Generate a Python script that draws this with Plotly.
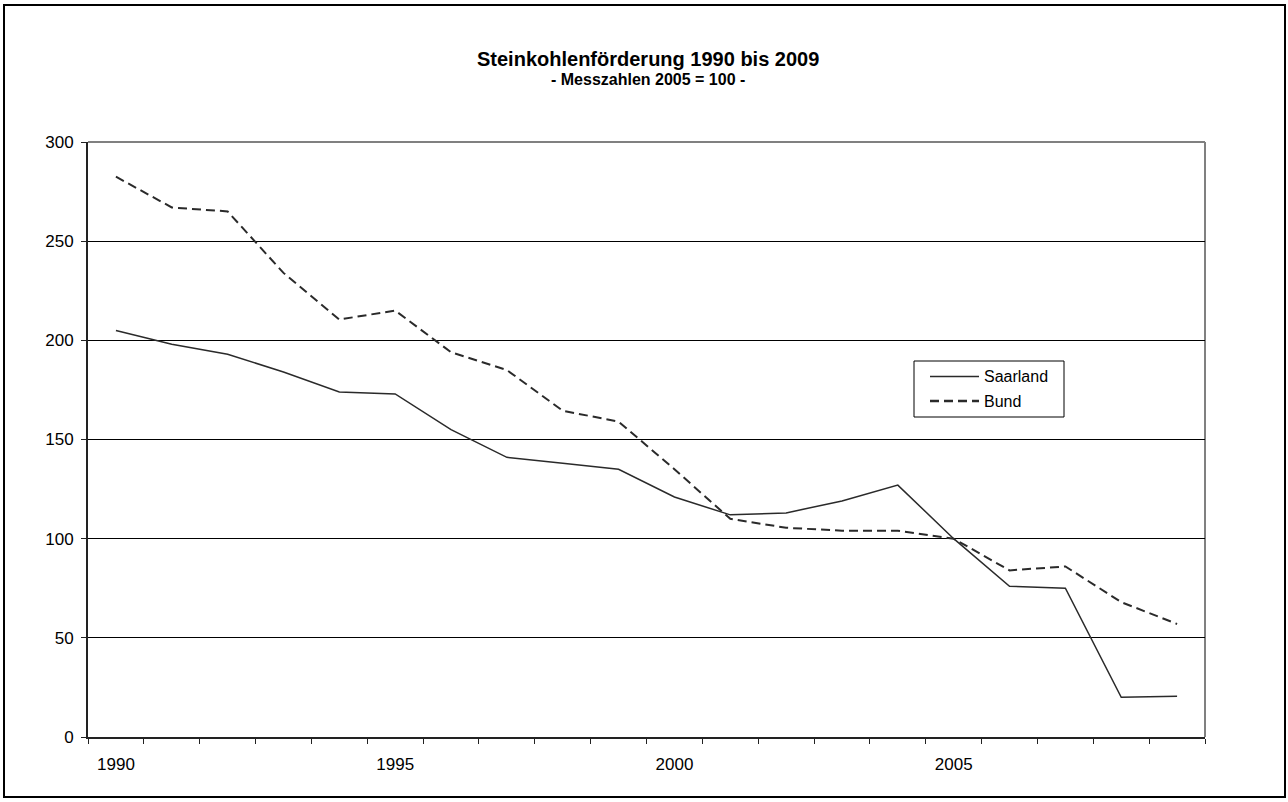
import plotly.graph_objects as go

years = list(range(1990, 2010))
saarland = [205, 198, 193, 184, 174, 173, 155, 141, 138, 135,
            121, 112, 113, 119, 127, 100, 76, 75, 20, 20.5]
bund = [282.5, 267, 265, 234, 210.5, 215, 194, 185, 164.5, 159,
        135, 110, 105.5, 104, 104, 100, 84, 86, 68, 57]
series_names = ["Saarland", "Bund"]
x_tick_labels = [1990, 1995, 2000, 2005]
y_ticks = [0, 50, 100, 150, 200, 250, 300]

title_text = "Steinkohlenförderung 1990 bis 2009"
subtitle_text = "- Messzahlen 2005 = 100 -"

FONT = "Liberation Sans, Arial, sans-serif"
W, H = 1288, 802
ML, MR, MT, MB = 88, 83, 142, 65
pw = W - ML - MR
ph = H - MT - MB
LINE_COLOR = "#2a2a2a"
DASH = "9px,5px"


def px_x(p):
    return (p - ML) / pw


def px_y(p):
    return (H - MB - p) / ph


fig = go.Figure()
fig.add_trace(go.Scatter(x=years, y=saarland, mode="lines", name=series_names[0],
                         line=dict(color=LINE_COLOR, width=1.5), showlegend=False))
fig.add_trace(go.Scatter(x=years, y=bund, mode="lines", name=series_names[1],
                         line=dict(color=LINE_COLOR, width=2, dash=DASH), showlegend=False))

boundaries = [y - 0.5 for y in years] + [years[-1] + 0.5]

# manual legend (box, samples, labels)
leg_shapes = [
    dict(type="rect", xref="paper", yref="paper",
         x0=px_x(914), x1=px_x(1064), y0=px_y(417), y1=px_y(361),
         line=dict(color="black", width=1), fillcolor="white", layer="above"),
    dict(type="line", xref="paper", yref="paper",
         x0=px_x(930), x1=px_x(979), y0=px_y(376.5), y1=px_y(376.5),
         line=dict(color=LINE_COLOR, width=1.5), layer="above"),
    dict(type="line", xref="paper", yref="paper",
         x0=px_x(930), x1=px_x(979), y0=px_y(401), y1=px_y(401),
         line=dict(color=LINE_COLOR, width=2.5, dash=DASH), layer="above"),
]
leg_ann = [
    dict(text=series_names[0], xref="paper", yref="paper", x=px_x(982), y=px_y(376.5),
         xanchor="left", yanchor="middle", showarrow=False, font=dict(size=16)),
    dict(text=series_names[1], xref="paper", yref="paper", x=px_x(982), y=px_y(401),
         xanchor="left", yanchor="middle", showarrow=False, font=dict(size=16)),
]

fig.update_layout(
    width=W, height=H,
    margin=dict(l=ML, r=MR, t=MT, b=MB, pad=0),
    paper_bgcolor="white", plot_bgcolor="white",
    font=dict(family=FONT, size=17, color="black"),
    showlegend=False,
    xaxis=dict(range=[years[0] - 0.5, years[-1] + 0.5],
               tickmode="array", tickvals=x_tick_labels,
               ticktext=[str(v) for v in x_tick_labels],
               ticks="", ticklabelstandoff=11,
               showgrid=False, zeroline=False,
               showline=True, linecolor="#222", linewidth=2,
               minor=dict(tickmode="array", tickvals=boundaries,
                          ticks="outside", ticklen=5, tickcolor="#222",
                          tickwidth=1, showgrid=False),
               tickfont=dict(size=17)),
    yaxis=dict(range=[0, 300], tickmode="array", tickvals=y_ticks,
               ticks="outside", ticklen=5, tickcolor="#222", tickwidth=1,
               ticklabelstandoff=4,
               showgrid=True, gridcolor="black", gridwidth=1,
               zeroline=False, showline=True, linecolor="#222", linewidth=2,
               tickfont=dict(size=17)),
    shapes=[
        dict(type="line", xref="paper", yref="paper", x0=0, x1=1, y0=1, y1=1,
             line=dict(color="#808080", width=2), layer="below"),
        dict(type="line", xref="paper", yref="paper", x0=1, x1=1, y0=0, y1=1,
             line=dict(color="#808080", width=2), layer="below"),
        dict(type="rect", xref="paper", yref="paper",
             x0=px_x(4), x1=px_x(1285), y0=px_y(797), y1=px_y(5),
             line=dict(color="black", width=2), fillcolor="rgba(0,0,0,0)"),
    ] + leg_shapes,
    annotations=[
        dict(text="<b>" + title_text + "</b>", xref="paper", yref="paper",
             x=px_x(648), y=px_y(59), xanchor="center", yanchor="middle",
             showarrow=False, font=dict(size=20, family=FONT)),
        dict(text="<b>" + subtitle_text + "</b>", xref="paper", yref="paper",
             x=px_x(648), y=px_y(80), xanchor="center", yanchor="middle",
             showarrow=False, font=dict(size=16, family=FONT)),
    ] + leg_ann,
)

fig.write_html("out.html", config={"displayModeBar": False},
               post_script="document.body.style.margin='0';document.body.style.overflow='hidden';")
